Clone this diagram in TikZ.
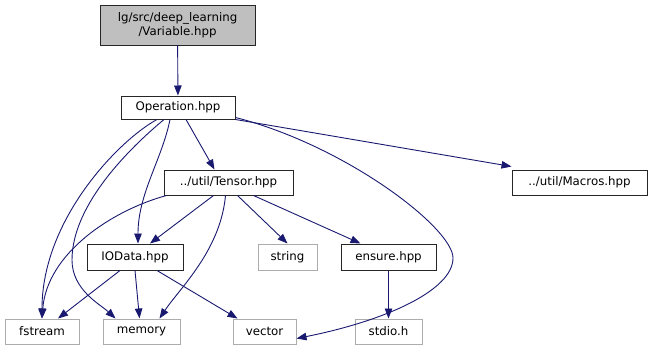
\documentclass[tikz,border=0pt]{standalone}
\usepackage{fontspec}
\setmainfont{DejaVu Sans}
\usetikzlibrary{arrows.meta}
\definecolor{edgeblue}{HTML}{191970}
\definecolor{sysgray}{HTML}{BFBFBF}
\tikzset{
  file/.style={draw=black!85, line width=1pt, fill=white, inner sep=0pt,
    font=\fontsize{11.8}{13.5}\selectfont},
  sysfile/.style={file, draw=sysgray!90!black},
  rootfile/.style={file, fill=sysgray, align=center},
  dep/.style={draw=edgeblue, line width=0.9pt,
    -{Triangle[length=10pt,width=7.5pt]}, fill=none},
}
\begin{document}
\begin{tikzpicture}[x=1pt,y=-1pt]
\useasboundingbox (0,0) rectangle (652,351);
% files
\node[rootfile, minimum width=155, minimum height=40] (var) at (177.5,25)
  {lg/src/deep\_learning\\/Variable.hpp};
\node[file, minimum width=114, minimum height=23] (op) at (178,107.5) {Operation.hpp};
\node[file, minimum width=129, minimum height=25] (tensor) at (228.5,182.5) {../util/Tensor.hpp};
\node[file, minimum width=135, minimum height=25] (macros) at (579.5,182.5) {../util/Macros.hpp};
\node[file, minimum width=96, minimum height=26] (iodata) at (135,257) {IOData.hpp};
\node[sysfile, minimum width=59, minimum height=26] (string) at (287.5,257) {string};
\node[file, minimum width=95, minimum height=26] (ensure) at (388.5,257) {ensure.hpp};
\node[sysfile, minimum width=74, minimum height=25] (fstream) at (42,331.5) {fstream};
\node[sysfile, minimum width=77, minimum height=25] (memory) at (141.5,331.5) {memory};
\node[sysfile, minimum width=63, minimum height=25] (vector) at (264.5,331.5) {vector};
\node[sysfile, minimum width=67, minimum height=25] (stdio) at (388.5,331.5) {stdio.h};
% includes of Variable.hpp / Operation.hpp
\draw[dep] (var) -- (op);
\draw[dep] ([xshift=8pt]op.south) -- ([xshift=-14pt]tensor.north);
\draw[dep] (op.south east) -- ([yshift=3pt]macros.north west);
\draw[dep] ([xshift=-8pt]op.south) .. controls +(-8,40) and +(0,-50) .. ([xshift=3pt]iodata.north);
\draw[dep] ([xshift=-21pt]op.south) .. controls +(-37,20) and +(0,-100) .. (fstream.north);
\draw[dep] ([xshift=-14pt]op.south) .. controls +(-24,20) and +(0,-60) .. (72,260)
  .. controls +(0,30) and +(-15,-14) .. ([xshift=-26pt]memory.north);
\draw[dep] ([yshift=2pt]op.south east) .. controls +(110,28) and +(0,-30) .. (453,258)
  .. controls +(0,32) and +(90,-18) .. ([yshift=-7pt]vector.east);
% includes of Tensor.hpp
\draw[dep] ([xshift=3pt]tensor.south west) .. controls +(-55,15) and +(5,-65) .. (fstream.north);
\draw[dep] ([xshift=-15pt]tensor.south) -- ([xshift=15pt]iodata.north);
\draw[dep] ([xshift=-3pt]tensor.south) .. controls +(-5,55) and +(20,-30) .. ([xshift=18pt]memory.north);
\draw[dep] ([xshift=9pt]tensor.south) -- (string.north);
\draw[dep] ([xshift=25pt]tensor.south) -- ([xshift=-28pt]ensure.north);
% includes of IOData.hpp and ensure.hpp
\draw[dep] ([xshift=-15pt]iodata.south) -- ([xshift=16pt]fstream.north);
\draw[dep] (iodata.south) -- ([xshift=-2pt]memory.north);
\draw[dep] ([xshift=22pt]iodata.south) -- ([xshift=-27pt]vector.north);
\draw[dep] (ensure) -- (stdio);
\end{tikzpicture}
\end{document}
